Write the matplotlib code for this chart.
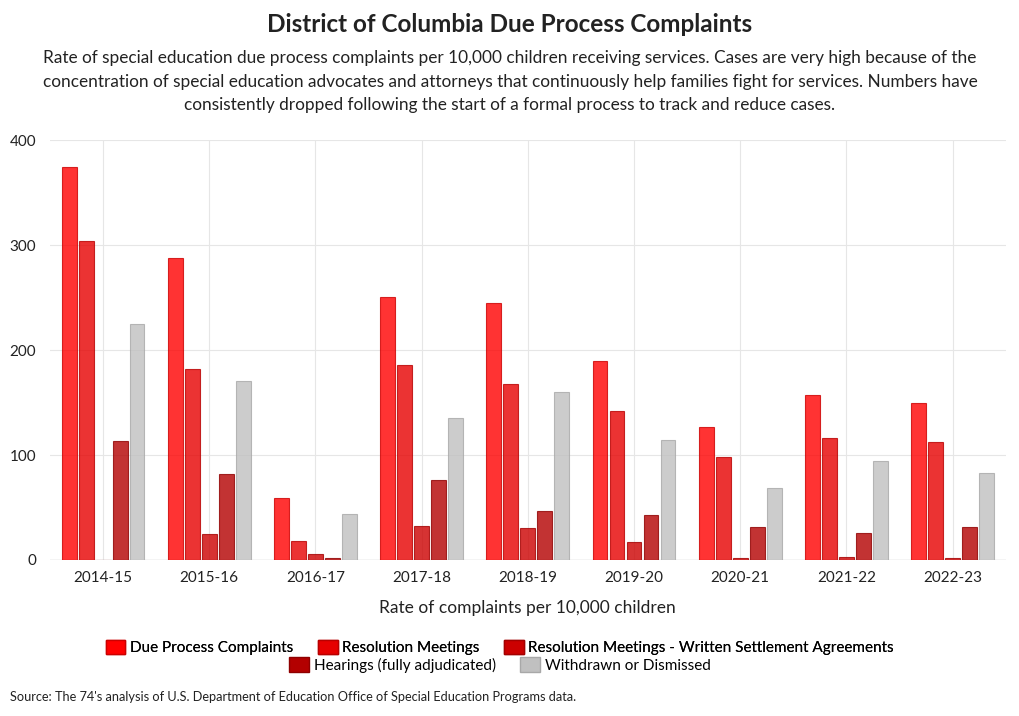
import numpy as np
import matplotlib.pyplot as plt
from matplotlib.patches import Patch

plt.rcParams['font.family'] = ['Lato', 'DejaVu Sans']

years = ["2014-15", "2015-16", "2016-17", "2017-18", "2018-19",
         "2019-20", "2020-21", "2021-22", "2022-23"]
due_process = [375, 288, 59, 251, 245, 190, 127, 157, 150]
resolution_meetings = [304, 182, 18, 186, 168, 142, 98, 116, 112]
written_settlements = [0, 25, 6, 32, 30, 17, 2, 3, 1.5]
hearings = [113, 82, 1.5, 76, 47, 43, 31, 26, 31]
withdrawn = [225, 171, 44, 135, 160, 114, 69, 94, 83]

series = [
    ("Due Process Complaints", due_process, "#ff0000"),
    ("Resolution Meetings", resolution_meetings, "#e60000"),
    ("Resolution Meetings - Written Settlement Agreements", written_settlements, "#cc0000"),
    ("Hearings (fully adjudicated)", hearings, "#b30000"),
    ("Withdrawn or Dismissed", withdrawn, "#c0c0c0"),
]
edges = ["#cc0000", "#b80000", "#a30000", "#8f0000", "#a8a8a8"]

fig = plt.figure(figsize=(10.2, 7.16), dpi=100)
ax = fig.add_axes([0.049, 0.218, 0.937, 0.586])

x = np.arange(len(years))
step = 0.16
width = 0.14
for i, (name, vals, col) in enumerate(series):
    ax.bar(x + (i - 2) * step, vals, width, color=col, alpha=0.8,
           edgecolor=edges[i], linewidth=0.8, zorder=3)

ax.set_xlim(-0.5, len(years) - 0.5)
ax.set_ylim(0, 400)
ax.set_yticks([0, 100, 200, 300, 400])
ax.set_xticks(x)
ax.set_xticklabels(years)
ax.tick_params(length=0, labelsize=11, colors="#222222")
ax.tick_params(axis="x", pad=8)
ax.tick_params(axis="y", pad=10)
ax.grid(True, color="#e6e6e6", linewidth=0.8, zorder=0)
for s in ax.spines.values():
    s.set_visible(False)
ax.axhline(0, color="#d0d0d0", linewidth=1, zorder=2)
ax.set_xlabel("Rate of complaints per 10,000 children", fontsize=12.5,
              color="#222222", labelpad=11)

fig.text(0.5, 0.966, "District of Columbia Due Process Complaints",
         ha="center", va="center", fontsize=17.5, fontweight="bold", color="#222222")
fig.text(0.5, 0.886,
         "Rate of special education due process complaints per 10,000 children receiving services. Cases are very high because of the\n"
         "concentration of special education advocates and attorneys that continuously help families fight for services. Numbers have\n"
         "consistently dropped following the start of a formal process to track and reduce cases.",
         ha="center", va="center", fontsize=12.4, color="#222222", linespacing=1.6)

handles = [Patch(facecolor=col, edgecolor=edges[i], label=name)
           for i, (name, vals, col) in enumerate(series)]
leg1 = fig.legend(handles=handles[:3], loc="center", bbox_to_anchor=(0.49, 0.096),
                  ncol=3, frameon=False, fontsize=11, handlelength=1.3,
                  handleheight=1.1, handletextpad=0.3, columnspacing=1.6,
                  borderpad=0)
leg2 = fig.legend(handles=handles[3:], loc="center", bbox_to_anchor=(0.49, 0.071),
                  ncol=2, frameon=False, fontsize=11, handlelength=1.3,
                  handleheight=1.1, handletextpad=0.3, columnspacing=1.6,
                  borderpad=0)
fig.add_artist(leg1)

fig.text(0.01, 0.027,
         "Source: The 74's analysis of U.S. Department of Education Office of Special Education Programs data.",
         ha="left", va="center", fontsize=9.2, color="#222222")

fig.savefig("out.png", dpi=100, facecolor="white")
